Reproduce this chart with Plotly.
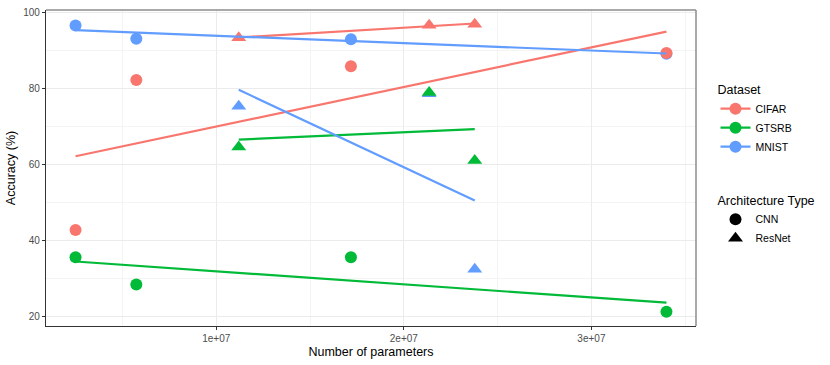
import numpy as np
import plotly.graph_objects as go

# ---- data ----
datasets = ["CIFAR", "GTSRB", "MNIST"]
colors = {"CIFAR": "#F8766D", "GTSRB": "#00BA38", "MNIST": "#619CFF"}
cnn_params = [2.5e6, 5.74e6, 17.18e6, 34.0e6]
resnet_params = [11.2e6, 21.35e6, 23.78e6]
cifar_cnn = [42.8, 82.2, 85.8, 89.3]
cifar_resnet = [93.3, 96.6, 96.8]
gtsrb_cnn = [35.7, 28.5, 35.7, 21.4]
gtsrb_resnet = [64.6, 78.9, 61.1]
mnist_cnn = [96.5, 93.0, 92.9, 89.1]
mnist_resnet = [75.3, 78.6, 32.5]
x_ticks = [1e7, 2e7, 3e7]
x_tick_labels = ["1e+07", "2e+07", "3e+07"]
y_ticks = [20, 40, 60, 80, 100]

values = {
    "CIFAR": {"CNN": cifar_cnn, "ResNet": cifar_resnet},
    "GTSRB": {"CNN": gtsrb_cnn, "ResNet": gtsrb_resnet},
    "MNIST": {"CNN": mnist_cnn, "ResNet": mnist_resnet},
}
params = {"CNN": cnn_params, "ResNet": resnet_params}
symbols = {"CNN": "circle", "ResNet": "triangle-up"}

fig = go.Figure()

# points (draw order so overlapping points match reference)
for ds in ["MNIST", "GTSRB", "CIFAR"]:
    for arch in ["CNN", "ResNet"]:
        fig.add_trace(go.Scatter(
            x=params[arch], y=values[ds][arch], mode="markers",
            marker=dict(color=colors[ds], symbol=symbols[arch],
                        size=12 if arch == "CNN" else 13, line=dict(width=0)),
            showlegend=False, hoverinfo="x+y"))

# linear fits per group
for ds in ["CIFAR", "GTSRB", "MNIST"]:
    for arch in ["CNN", "ResNet"]:
        xs = np.array(params[arch])
        ys = np.array(values[ds][arch])
        slope, intercept = np.polyfit(xs, ys, 1)
        xl = np.array([xs.min(), xs.max()])
        fig.add_trace(go.Scatter(
            x=xl, y=slope * xl + intercept, mode="lines",
            line=dict(color=colors[ds], width=2.2),
            showlegend=False, hoverinfo="skip"))

# legend entries
for ds in datasets:
    fig.add_trace(go.Scatter(
        x=[None], y=[None], mode="lines+markers", name=ds,
        line=dict(color=colors[ds], width=2.2),
        marker=dict(color=colors[ds], size=12, symbol="circle"),
        legend="legend"))
for arch in ["CNN", "ResNet"]:
    fig.add_trace(go.Scatter(
        x=[None], y=[None], mode="markers", name=arch,
        marker=dict(color="black", size=12 if arch == "CNN" else 13,
                    symbol=symbols[arch]),
        legend="legend2"))

font_family = "Liberation Sans, Arial, Helvetica, sans-serif"
axis_common = dict(
    showline=True, linecolor="#333333", linewidth=1.2,
    ticks="outside", ticklen=3, tickcolor="#333333", tickwidth=1,
    gridcolor="#EBEBEB", gridwidth=1, zeroline=False,
    tickfont=dict(size=10, color="#4D4D4D", family=font_family),
)

fig.update_layout(
    width=830, height=365,
    margin=dict(l=46, r=134, t=7, b=39),
    plot_bgcolor="white", paper_bgcolor="white",
    font=dict(family=font_family, color="black"),
    xaxis=dict(
        range=[0.925e6, 35.575e6], tickvals=x_ticks, ticktext=x_tick_labels,
        minor=dict(tickvals=[5e6, 1.5e7, 2.5e7, 3.5e7], showgrid=True,
                   gridcolor="#F4F4F4", ticks=""),
        title=dict(text="Number of parameters", font=dict(size=12.5), standoff=4),
        **axis_common),
    yaxis=dict(
        range=[17.63, 100.57], tickvals=y_ticks,
        minor=dict(tickvals=[30, 50, 70, 90], showgrid=True,
                   gridcolor="#F4F4F4", ticks=""),
        title=dict(text="Accuracy (%)", font=dict(size=12.5), standoff=4),
        **axis_common),
    legend=dict(
        title=dict(text="Dataset", font=dict(size=12.5)),
        x=1.03, y=0.785, xanchor="left", yanchor="top",
        font=dict(size=10.5), bgcolor="rgba(0,0,0,0)", itemwidth=30),
    legend2=dict(
        title=dict(text="Architecture Type", font=dict(size=12.5)),
        x=1.03, y=0.435, xanchor="left", yanchor="top",
        font=dict(size=10.5), bgcolor="rgba(0,0,0,0)", itemwidth=30),
    shapes=[
        dict(type="line", xref="paper", yref="paper", x0=0, x1=1, y0=1, y1=1,
             line=dict(color="#8C8C8C", width=1.5)),
        dict(type="line", xref="paper", yref="paper", x0=1, x1=1, y0=0, y1=1,
             line=dict(color="#8C8C8C", width=1.5)),
    ],
)

fig.write_html(
    "out.html",
    config={"displayModeBar": False},
    post_script="document.body.style.margin='0';document.body.style.overflow='hidden';",
)
